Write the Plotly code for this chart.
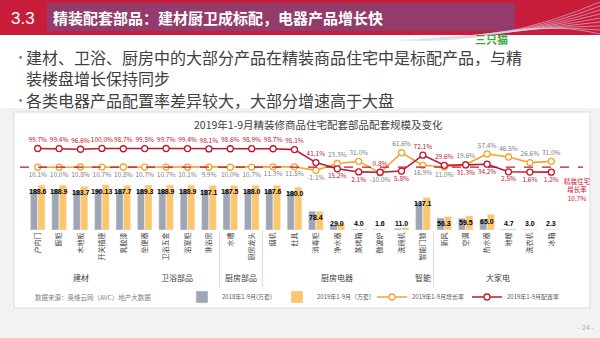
import plotly.graph_objects as go

# ---------------- data ----------------
categories = ["户内门", "橱柜", "木地板", "开关插座", "乳胶漆",
              "坐便器", "卫浴五金", "浴室柜", "淋浴房",
              "水槽", "厨房龙头",
              "烟机", "灶具", "消毒柜", "净水器", "蒸烤箱", "微波炉", "洗碗机",
              "智能门锁",
              "新风", "空调", "热水器", "地暖", "洗衣机", "冰箱"]
groups = ["建材"] * 5 + ["卫浴部品"] * 4 + ["厨房部品"] * 2 + ["厨房电器"] * 7 + ["智能"] + ["大家电"] * 6
vol_2018 = [171.3, 171.7, 165.8, 171.8, 169.4, 171.0, 170.6, 171.6, 170.2, 170.5, 169.8, 168.6, 161.4,
            79.3, 23.5, 3.1, 1.8, 6.8, 117.3, 50.7, 49.7, 41.3, 3.2, 2.4, 1.8]
vol_2019 = [188.6, 188.9, 183.7, 190.13, 187.7, 189.3, 188.9, 188.9, 187.1, 187.5, 188.0, 187.6, 180.0,
            78.4, 29.0, 4.0, 1.6, 11.0, 137.1, 56.3, 59.5, 65.0, 4.7, 3.0, 2.3]
growth_2019 = [10.1, 10.0, 10.8, 10.7, 10.8, 10.7, 10.7, 10.1, 9.9, 10.0, 10.7, 11.3, 11.5,
               -1.1, 23.3, 31.0, -10.0, 61.6, 16.9, 11.0, 19.6, 57.4, 46.5, 26.6, 31.0]
rate_2019 = [99.7, 99.4, 96.6, 100.0, 98.7, 99.5, 99.7, 99.4, 98.1, 98.6, 98.9, 98.7, 95.1,
             41.1, 15.2, 2.1, 0.8, 5.8, 72.1, 29.6, 31.3, 34.2, 2.5, 1.6, 1.2]
market_growth = 10.7
series_names = ["2018年1-9月(万套)", "2019年1-9月（万套）", "2019年1-9月增长率", "2019年1-9月配置率"]

# ---------------- styles ----------------
W, H = 600, 338
FONT = "Noto Sans CJK SC"
C_GRAY = "#9ea6b4"
C_YEL = "#fdc66a"
C_ORG = "#f2a531"
C_RED = "#c0172c"
C_TXT = "#404040"

def px(x):
    return x / W

def py(y):
    return 1 - y / H

plot_top, plot_bot = 135, 230
Y1 = [0, 400]
Y2 = [-214, 125]
Y3 = [-240, 156]

def frac(v, r):
    return (v - r[0]) / (r[1] - r[0])

# label positions derived from relative plotted heights
org_pos, red_pos = [], []
for g, r in zip(growth_2019, rate_2019):
    if frac(g, Y2) > frac(r, Y3):
        org_pos.append("top center"); red_pos.append("bottom center")
    else:
        org_pos.append("bottom center"); red_pos.append("top center")

fig = go.Figure()
fig.add_trace(go.Bar(x=categories, y=vol_2018, name=series_names[0], marker_color=C_GRAY, yaxis="y"))
fig.add_trace(go.Bar(x=categories, y=vol_2019, name=series_names[1], marker_color=C_YEL, yaxis="y"))
fig.add_trace(go.Scatter(
    x=categories, y=growth_2019, name=series_names[2], yaxis="y2",
    mode="lines+markers+text", line=dict(color=C_ORG, width=1.6),
    marker=dict(symbol="circle", size=6, color="white", line=dict(color=C_ORG, width=1.3)),
    text=[f"{v:.1f}%" for v in growth_2019], textposition=org_pos,
    textfont=dict(size=6.5, color="#808080", family=FONT), cliponaxis=False))
fig.add_trace(go.Scatter(
    x=categories, y=rate_2019, name=series_names[3], yaxis="y3",
    mode="lines+markers+text", line=dict(color=C_RED, width=1.6),
    marker=dict(symbol="circle", size=6, color="white", line=dict(color=C_RED, width=1.3)),
    text=[f"{v:.1f}%" for v in rate_2019], textposition=red_pos,
    textfont=dict(size=6.5, color=C_RED, family=FONT), cliponaxis=False))

shapes = []
annotations = []

def note(x, y, text, size, color, xanchor="center", xref="paper", yref="paper", **kw):
    annotations.append(dict(xref=xref, yref=yref, x=x, y=y, text=text, showarrow=False,
                            xanchor=xanchor, yanchor="middle",
                            font=dict(size=size, color=color, family=kw.pop("family", FONT)), **kw))

# backgrounds
shapes.append(dict(type="rect", xref="paper", yref="paper", x0=0, x1=1, y0=0, y1=py(108),
                   fillcolor="#f2f2f2", line=dict(width=0), layer="below"))
shapes.append(dict(type="rect", xref="paper", yref="paper", x0=px(14), x1=px(590), y0=py(308), y1=py(112),
                   fillcolor="white", line=dict(color="#dcdcdc", width=1), layer="below"))
# header
shapes.append(dict(type="rect", xref="paper", yref="paper", x0=0, x1=1, y0=py(35), y1=1,
                   fillcolor="#c81d3a", line=dict(width=0), layer="below"))
shapes.append(dict(type="rect", xref="paper", yref="paper", x0=px(47), x1=px(515), y0=py(31), y1=py(3),
                   fillcolor="#933b6b", line=dict(width=0), layer="below"))
# decorative waves
for i in range(9):
    x0, y0 = 400 + i * 10, 40 - i * 0.5
    xc, yc = 500 + i * 6, 45 - i * 3
    x1, y1 = 600, 2 + i * 4
    col = "rgba(190,210,235,0.75)" if i % 2 == 0 else "rgba(250,200,215,0.75)"
    shapes.append(dict(type="path", xref="paper", yref="paper",
                       path=f"M {px(x0)},{py(y0)} Q {px(xc)},{py(yc)} {px(x1)},{py(y1)}",
                       line=dict(color=col, width=0.8)))

# market growth dashed line
shapes.append(dict(type="line", xref="paper", yref="y2", x0=px(20), x1=px(583),
                   y0=market_growth, y1=market_growth, line=dict(color=C_RED, width=1.3, dash="dash")))
note(px(577), py(189), f"精装住宅<br>增长率<br>{market_growth}%", 6.5, C_RED, align="center")

# group dividers and labels
bounds = [i + 0.5 for i in range(len(groups) - 1) if groups[i] != groups[i + 1]]
for b in bounds:
    if b in (4.5, 17.5):
        continue
    shapes.append(dict(type="line", xref="x", yref="paper", x0=b, x1=b, y0=py(287), y1=py(231),
                       line=dict(color="#d9d9d9", width=1)))
seen = []
for g in groups:
    if g not in seen:
        seen.append(g)
for g in seen:
    idx = [i for i, gg in enumerate(groups) if gg == g]
    note(sum(idx) / len(idx), py(277), g, 8, C_TXT, xref="x")

# bar value labels
for c, v in zip(categories, vol_2019):
    note(c, max(v, 56), f"<b>{v}</b>", 7, "black", xref="x", yref="y", yshift=-6.5,
         family="Liberation Sans")

# texts
note(px(9), py(18), "3.3", 17, "white", xanchor="left", family="Liberation Sans")
note(px(51), py(17), "<b>精装配套部品：建材厨卫成标配，电器产品增长快</b>", 15, "white", xanchor="left")
note(px(12), py(57), "•", 13, "#7f7f7f", xanchor="left")
note(px(24), py(57), "建材、卫浴、厨房中的大部分产品在精装商品住宅中是标配产品，与精", 16, C_TXT, xanchor="left")
note(px(24), py(78), "装楼盘增长保持同步", 16, C_TXT, xanchor="left")
note(px(12), py(100), "•", 13, "#7f7f7f", xanchor="left")
note(px(24), py(100), "各类电器产品配置率差异较大，大部分增速高于大盘", 16, C_TXT, xanchor="left")
note(px(492), py(39), "<b>三只猫</b>", 11, "#3aa83a")
note(px(318), py(124), "2019年1-9月精装修商品住宅配套部品配套规模及变化", 10.5, C_TXT)
note(px(33), py(297), "数据来源：奥维云网（AVC）地产大数据", 6.5, "#7f7f7f", xanchor="left")
note(px(586), py(327), "- 24 -", 7, "#b0b0b0")

fig.update_layout(
    width=W, height=H, autosize=False, margin=dict(l=0, r=0, t=0, b=0),
    paper_bgcolor="white", plot_bgcolor="rgba(0,0,0,0)",
    font=dict(family=FONT, color=C_TXT),
    barmode="group", bargap=0.3, bargroupgap=0.05,
    xaxis=dict(domain=[px(27), px(562)], range=[-0.5, len(categories) - 0.5], tickangle=-90,
               tickfont=dict(size=7, color=C_TXT, family=FONT), showgrid=False, zeroline=False,
               showline=False, ticks=""),
    yaxis=dict(domain=[py(plot_bot), py(plot_top)], range=Y1, visible=False, showgrid=False),
    yaxis2=dict(overlaying="y", range=Y2, visible=False, showgrid=False),
    yaxis3=dict(overlaying="y", range=Y3, visible=False, showgrid=False),
    showlegend=True,
    legend=dict(orientation="h", x=px(182), y=py(297), xanchor="left", yanchor="middle",
                font=dict(size=6, color="#595959", family=FONT), bgcolor="rgba(0,0,0,0)",
                entrywidth=50, entrywidthmode="pixels", itemwidth=30, traceorder="normal",
                tracegroupgap=0),
    shapes=shapes, annotations=annotations,
)

fig.write_html("out.html")
